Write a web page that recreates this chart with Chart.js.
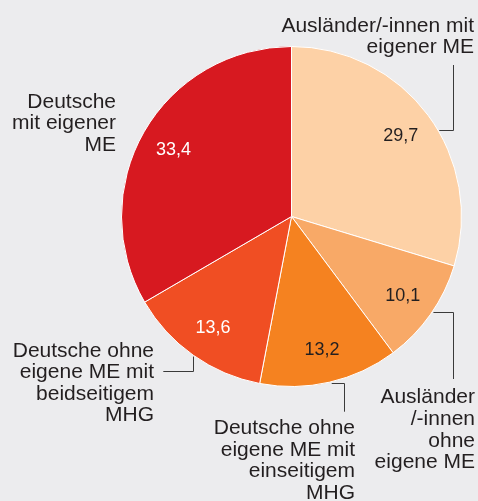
<!DOCTYPE html>
<html>
<head>
<meta charset="utf-8">
<script src="https://cdn.jsdelivr.net/npm/chart.js@4/dist/chart.umd.min.js"></script>
<style>
  html, body { margin: 0; padding: 0; background: #ececee; }
  #wrap { width: 478px; height: 501px; position: relative; }
</style>
</head>
<body>
<div id="wrap"><canvas id="pie"></canvas></div>
<script>
// Anteile in Prozent, im Uhrzeigersinn ab 12 Uhr
const categories = [
  'Ausländer/-innen mit eigener ME',
  'Ausländer/-innen ohne eigene ME',
  'Deutsche ohne eigene ME mit einseitigem MHG',
  'Deutsche ohne eigene ME mit beidseitigem MHG',
  'Deutsche mit eigener ME'
]
const values = [29.7, 10.1, 13.2, 13.6, 33.4]
const labelLines = [
  ['Ausländer/-innen mit', 'eigener ME'],
  ['Ausländer', '/-innen', 'ohne', 'eigene ME'],
  ['Deutsche ohne', 'eigene ME mit', 'einseitigem', 'MHG'],
  ['Deutsche ohne', 'eigene ME mit', 'beidseitigem', 'MHG'],
  ['Deutsche', 'mit eigener', 'ME']
]
const sliceColors = ['#fdd1a6', '#f8a967', '#f58220', '#f04e23', '#d71920']
const valueColors = ['#231f20', '#231f20', '#231f20', '#ffffff', '#ffffff']

const FONT = '"Liberation Sans", Arial, Helvetica, sans-serif'
const TEXT = '#231f20'

// outside label placement: right edge, first baseline, line height
// leader: angle on the rim (deg), then two segments
const outside = [
  {right: 474, top: 31.7, lh: 20.8, leader: {angle: -30.2, first: 'h', a: 452.7, b: 65}},
  {right: 475, top: 403.3, lh: 21.7, leader: {angle: 33.9, first: 'h', a: 453.3, b: 379}},
  {right: 355, top: 434, lh: 21.5, leader: {angle: 76.4, first: 'h', a: 344.3, b: 411.7}},
  {right: 154, top: 356.7, lh: 21.4, leader: {angle: 125, first: 'v', a: 370.7, b: 163.3}},
  {right: 116, top: 107.7, lh: 21.6, leader: null}
]

function fmt(v) {
  return v.toFixed(1).replace('.', ',')
}

const labelPlugin = {
  id: 'labelPlugin',
  afterDatasetsDraw(chart) {
    const ctx = chart.ctx
    const arcs = chart.getDatasetMeta(0).data
    ctx.save()

    // values inside the slices
    ctx.font = '18px ' + FONT
    ctx.textAlign = 'center'
    ctx.textBaseline = 'middle'
    arcs.forEach(function(arc, i) {
      const p = arc.getProps(['x', 'y', 'startAngle', 'endAngle', 'outerRadius'], true)
      const mid = (p.startAngle + p.endAngle) / 2
      const r = p.outerRadius * 0.8
      ctx.fillStyle = valueColors[i]
      ctx.fillText(fmt(values[i]), p.x + Math.cos(mid) * r, p.y + Math.sin(mid) * r + 1)
    })

    // leader lines
    ctx.strokeStyle = '#3a3a3a'
    ctx.lineWidth = 1
    arcs.forEach(function(arc, i) {
      const l = outside[i].leader
      if (!l) return
      const p = arc.getProps(['x', 'y', 'outerRadius'], true)
      const ang = l.angle * Math.PI / 180
      const sx = p.x + Math.cos(ang) * (p.outerRadius + 1)
      const sy = p.y + Math.sin(ang) * (p.outerRadius + 1)
      ctx.beginPath()
      if (l.first == 'h') {
        ctx.moveTo(sx, Math.round(sy) + 0.5)
        ctx.lineTo(Math.round(l.a) + 0.5, Math.round(sy) + 0.5)
        ctx.lineTo(Math.round(l.a) + 0.5, l.b)
      } else {
        ctx.moveTo(Math.round(sx) + 0.5, sy)
        ctx.lineTo(Math.round(sx) + 0.5, Math.round(l.a) + 0.5)
        ctx.lineTo(l.b, Math.round(l.a) + 0.5)
      }
      ctx.stroke()
    })

    // category labels
    ctx.font = '21px ' + FONT
    ctx.fillStyle = TEXT
    ctx.textAlign = 'right'
    ctx.textBaseline = 'alphabetic'
    labelLines.forEach(function(lines, i) {
      const o = outside[i]
      lines.forEach(function(line, j) {
        ctx.fillText(line, o.right, o.top + j * o.lh)
      })
    })
    ctx.restore()
  }
}

new Chart(document.getElementById('pie'), {
  type: 'pie',
  data: {
    labels: categories,
    datasets: [{
      data: values,
      backgroundColor: sliceColors,
      borderColor: '#ffffff',
      borderWidth: 1
    }]
  },
  options: {
    responsive: true,
    maintainAspectRatio: false,
    animation: false,
    layout: {
      padding: {left: 121, right: 16, top: 46, bottom: 114}
    },
    plugins: {
      legend: { display: false },
      tooltip: { enabled: false }
    }
  },
  plugins: [labelPlugin]
})
</script>
</body>
</html>
